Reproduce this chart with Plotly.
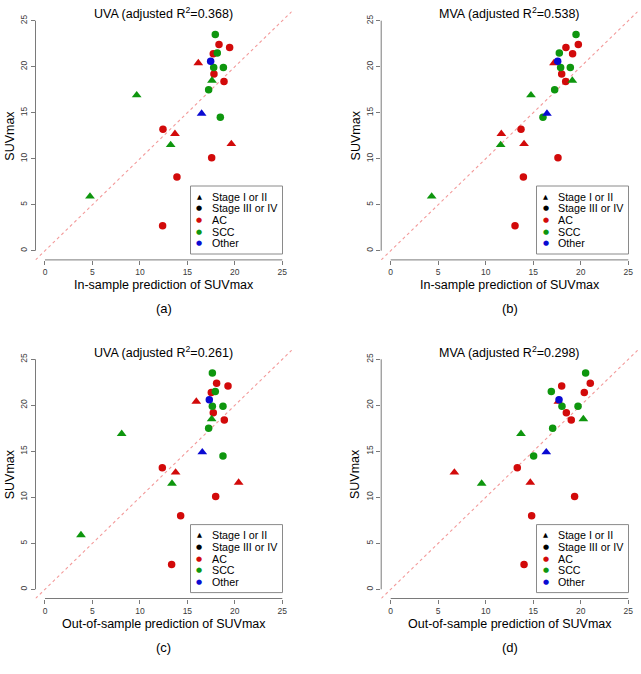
import plotly.graph_objects as go

# ---------------- data ----------------
histology = ["AC"] * 12 + ["SCC"] * 10 + ["Other"] * 2
stage = (["III/IV"] * 9 + ["I/II"] * 3 +
         ["III/IV"] * 6 + ["I/II"] * 4 +
         ["III/IV", "I/II"])
suvmax = [22.4, 22.1, 21.4, 19.2, 18.4, 13.2, 10.1, 8.0, 2.7,
          20.4, 12.7, 11.6,
          23.5, 21.5, 19.9, 19.9, 17.5, 14.5,
          18.5, 16.9, 11.5, 5.9,
          20.6, 14.9]
# (a) UVA in-sample
pred_uva_in = [18.33, 19.45, 17.73, 17.80, 18.86, 12.43, 17.56, 13.90, 12.39,
               16.15, 13.69, 19.63,
               17.94, 18.15, 17.77, 18.79, 17.24, 18.47,
               17.59, 9.66, 13.24, 4.74,
               17.45, 16.50]
# (b) MVA in-sample
pred_mva_in = [19.74, 18.44, 19.14, 17.99, 18.41, 13.71, 17.60, 13.96, 13.08,
               17.18, 11.64, 14.03,
               19.50, 17.74, 17.88, 18.90, 17.25, 16.02,
               19.11, 14.76, 11.57, 4.31,
               17.57, 16.44]
# (c) UVA out-of-sample
pred_uva_out = [18.08, 19.28, 17.52, 17.73, 18.89, 12.36, 17.98, 14.29, 13.34,
                15.94, 13.76, 20.40,
                17.63, 17.94, 17.63, 18.75, 17.24, 18.75,
                17.56, 8.08, 13.38, 3.79,
                17.31, 16.57]
# (d) MVA out-of-sample (one point falls outside the plotted range)
pred_mva_out = [21.00, 17.99, 20.37, 18.48, 19.00, 13.32, 19.35, 14.83, 14.03,
                17.64, 6.70, 14.69,
                20.51, 16.90, 18.02, 19.71, 17.04, 15.04,
                20.27, 13.71, 9.57, None,
                17.71, 16.37]

panel_titles = ["UVA (adjusted R<sup>2</sup>=0.368)", "MVA (adjusted R<sup>2</sup>=0.538)",
                "UVA (adjusted R<sup>2</sup>=0.261)", "MVA (adjusted R<sup>2</sup>=0.298)"]
x_titles = ["In-sample prediction of SUVmax", "In-sample prediction of SUVmax",
            "Out-of-sample prediction of SUVmax", "Out-of-sample prediction of SUVmax"]
captions = ["(a)", "(b)", "(c)", "(d)"]
tick_values = [0, 5, 10, 15, 20, 25]
legend_labels = ["Stage I or II", "Stage III or IV", "AC", "SCC", "Other"]
legend_glyphs = ["▲", "●", "●", "●", "●"]

# ---------------- styling ----------------
W, H = 641, 674
FONT = "Liberation Sans, Arial, Helvetica, sans-serif"
COLORS = {"AC": "#D20A0A", "SCC": "#0E960E", "Other": "#0A0AD2"}
SYMBOLS = {"I/II": "triangle-up", "III/IV": "circle"}
SIZES = {"I/II": 8.5, "III/IV": 7.5}
LEG_COLORS = ["black", "black", COLORS["AC"], COLORS["SCC"], COLORS["Other"]]
AX_RANGE = [-1, 26]
AXIS_COLOR = "#7a7a7a"


def fx(p):
    return p / W


def fy(p):
    return 1 - p / H


# pixel geometry of each panel's plot region: left, right, top, bottom
geoms = [(35.5, 291.8, 11.5, 259.9),
         (381.2, 637.8, 11.5, 259.9),
         (35.5, 291.8, 350.1, 598.5),
         (381.2, 637.8, 350.1, 598.5)]
preds = [pred_uva_in, pred_mva_in, pred_uva_out, pred_mva_out]

fig = go.Figure()
annotations = []
shapes = []
layout_axes = {}

for i, (pred, (L, R, T, B)) in enumerate(zip(preds, geoms)):
    n = "" if i == 0 else str(i + 1)
    xa, ya = "x" + n, "y" + n

    # identity reference line, spanning the axis range
    fig.add_trace(go.Scatter(x=AX_RANGE, y=AX_RANGE, mode="lines", xaxis=xa, yaxis=ya,
                             line=dict(color="#F39A9A", width=1.1, dash="dot"),
                             hoverinfo="skip", showlegend=False))
    fig.add_trace(go.Scatter(
        x=pred, y=suvmax, mode="markers", xaxis=xa, yaxis=ya, showlegend=False,
        marker=dict(color=[COLORS[h] for h in histology],
                    symbol=[SYMBOLS[s] for s in stage],
                    size=[SIZES[s] for s in stage],
                    opacity=1,
                    line=dict(width=0))))

    common = dict(range=AX_RANGE, tickvals=tick_values, ticks="outside", ticklen=4,
                  tickwidth=1, tickcolor=AXIS_COLOR, showgrid=False, zeroline=False,
                  showline=False, tickfont=dict(family=FONT, size=8.5, color="#3a3a3a"))
    layout_axes["xaxis" + n] = dict(domain=[fx(L), fx(R)], anchor=ya, **common)
    layout_axes["yaxis" + n] = dict(domain=[fy(B), fy(T)], anchor=xa, tickangle=-90, **common)

    # axis lines only over the tick span (R style)
    shapes.append(dict(type="line", xref=xa, yref=ya + " domain", x0=tick_values[0],
                       x1=tick_values[-1], y0=0, y1=0, line=dict(color=AXIS_COLOR, width=1)))
    shapes.append(dict(type="line", xref=xa + " domain", yref=ya, x0=0, x1=0,
                       y0=tick_values[0], y1=tick_values[-1],
                       line=dict(color=AXIS_COLOR, width=1)))

    cx = (L + R) / 2
    cy = (T + B) / 2
    annotations.append(dict(text=panel_titles[i], x=fx(cx), y=fy(T + 1.5), xref="paper",
                            yref="paper", showarrow=False, xanchor="center", yanchor="middle",
                            font=dict(family=FONT, size=12.5, color="black")))
    annotations.append(dict(text=x_titles[i], x=fx(cx), y=fy(B + 25.5), xref="paper",
                            yref="paper", showarrow=False, xanchor="center", yanchor="middle",
                            font=dict(family=FONT, size=12.5, color="black")))
    annotations.append(dict(text="SUVmax", x=fx(L - 25.5), y=fy(cy), xref="paper",
                            yref="paper", showarrow=False, textangle=-90, xanchor="center",
                            yanchor="middle", font=dict(family=FONT, size=12.5, color="black")))
    annotations.append(dict(text=captions[i], x=fx(cx), y=fy(B + 49), xref="paper",
                            yref="paper", showarrow=False, xanchor="center", yanchor="middle",
                            font=dict(family=FONT, size=13, color="black")))

    # legend box
    box_r = R - 9.3
    box_l = box_r - 92
    box_b = B - 5.9
    box_t = box_b - 68
    shapes.append(dict(type="rect", xref="paper", yref="paper", x0=fx(box_l), x1=fx(box_r),
                       y0=fy(box_b), y1=fy(box_t), line=dict(color="#8a8a8a", width=1),
                       fillcolor="white", layer="above"))
    for k, (lab, gl, col) in enumerate(zip(legend_labels, legend_glyphs, LEG_COLORS)):
        ry = box_t + 10.8 + 11.6 * k
        annotations.append(dict(text=gl, x=fx(box_l + 9), y=fy(ry), xref="paper",
                                yref="paper", showarrow=False, xanchor="center",
                                yanchor="middle",
                                font=dict(family="DejaVu Sans", size=7 if gl == "●" else 6.5,
                                          color=col)))
        annotations.append(dict(text=lab, x=fx(box_l + 19), y=fy(ry), xref="paper",
                                yref="paper", showarrow=False, xanchor="left",
                                yanchor="middle",
                                font=dict(family=FONT, size=10.7, color="black")))

fig.update_layout(width=W, height=H, margin=dict(l=0, r=0, t=0, b=0),
                  paper_bgcolor="white", plot_bgcolor="white", showlegend=False,
                  hovermode=False,
                  annotations=annotations, shapes=shapes, **layout_axes)

fig.write_html("out.html", config={"displayModeBar": False},
               post_script="document.body.style.margin='0';")
